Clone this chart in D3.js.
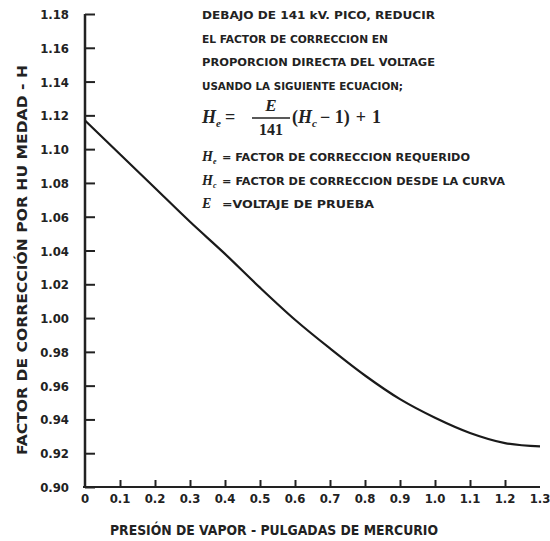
<!DOCTYPE html>
<html>
<head>
<meta charset="utf-8">
<script src="https://cdn.jsdelivr.net/npm/d3@7"></script>
<style>
  body { margin: 0; background: #fff; }
  svg { display: block; }
  .lbl { font-family: "Liberation Sans Narrow", "DejaVu Sans Condensed", sans-serif; font-weight: bold; fill: #222; }
  .math { font-family: "Liberation Serif", "DejaVu Serif", serif; font-weight: bold; fill: #222; }
</style>
</head>
<body>
<div id="chart"></div>
<script>
// curve, step 0.1 in. Hg
var presion = [0, 0.1, 0.2, 0.3, 0.4, 0.5, 0.6, 0.7, 0.8, 0.9, 1.0, 1.1, 1.2, 1.3];
var factorH = [1.117, 1.097, 1.077, 1.057, 1.038, 1.018, 0.999, 0.982, 0.966, 0.952, 0.941, 0.932, 0.926, 0.924];

var xTicks = [0, 0.1, 0.2, 0.3, 0.4, 0.5, 0.6, 0.7, 0.8, 0.9, 1.0, 1.1, 1.2, 1.3];
var xTickLabels = ["0", "0.1", "0.2", "0.3", "0.4", "0.5", "0.6", "0.7", "0.8", "0.9", "1.0", "1.1", "1.2", "1.3"];
var yTicks = [0.90, 0.92, 0.94, 0.96, 0.98, 1.00, 1.02, 1.04, 1.06, 1.08, 1.10, 1.12, 1.14, 1.16, 1.18];

var notas = [
  "DEBAJO DE 141 kV. PICO, REDUCIR",
  "EL FACTOR DE CORRECCION EN",
  "PROPORCION DIRECTA DEL VOLTAGE",
  "USANDO LA SIGUIENTE ECUACION;"
];
var leyenda = [
  {sym: "H", sub: "e", txt: "= FACTOR DE CORRECCION REQUERIDO"},
  {sym: "H", sub: "c", txt: "= FACTOR DE CORRECCION DESDE LA CURVA"},
  {sym: "E", sub: "", txt: "=VOLTAJE DE PRUEBA"}
];

var W = 550, H = 541;
var margin = {top: 14, right: 10, bottom: 54, left: 85};

var svg = d3.select("#chart").append("svg")
    .attr("width", W)
    .attr("height", H);

var x = d3.scaleLinear().domain([0, 1.3]).range([margin.left, 540]);
var y = d3.scaleLinear().domain([0.90, 1.18]).range([H - margin.bottom, margin.top]);

// y axis, ticks pointing inward
var yAxis = svg.append("g")
    .attr("transform", "translate(" + margin.left + ",0)")
    .call(d3.axisRight(y).tickValues(yTicks).tickSize(10).tickFormat(""));
yAxis.select(".domain").attr("stroke", "#222").attr("stroke-width", 2.5).attr("d", "M0," + y(1.18) + "V" + y(0.90));
yAxis.selectAll(".tick line").attr("stroke", "#222").attr("stroke-width", 2);

yAxis.selectAll(".tick").append("text")
    .attr("class", "lbl")
    .attr("x", -16)
    .attr("dy", "0.35em")
    .attr("text-anchor", "end")
    .style("font-size", "13px")
    .text(function(d) { return d3.format(".2f")(d); });

// x axis, small ticks pointing up
var xAxis = svg.append("g")
    .attr("transform", "translate(0," + y(0.90) + ")")
    .call(d3.axisTop(x).tickValues(xTicks.slice(1, 13)).tickSize(7).tickFormat(""));
xAxis.select(".domain").attr("stroke", "#222").attr("stroke-width", 2).attr("d", "M" + (x(0) - 2) + ",0H" + x(1.3));
xAxis.selectAll(".tick line").attr("stroke", "#222").attr("stroke-width", 2);

svg.append("g").selectAll("text")
    .data(xTicks)
  .enter().append("text")
    .attr("class", "lbl")
    .attr("x", function(d) { return x(d); })
    .attr("y", y(0.90) + 16)
    .attr("text-anchor", "middle")
    .style("font-size", "13px")
    .text(function(d, i) { return xTickLabels[i]; });

// axis titles
svg.append("text")
    .attr("class", "lbl")
    .attr("x", 274)
    .attr("y", 535)
    .attr("text-anchor", "middle")
    .attr("textLength", 328)
    .attr("lengthAdjust", "spacingAndGlyphs")
    .style("font-size", "14px")
    .text("PRESIÓN DE VAPOR - PULGADAS DE MERCURIO");

svg.append("text")
    .attr("class", "lbl")
    .attr("transform", "translate(27,260) rotate(-90)")
    .attr("text-anchor", "middle")
    .attr("textLength", 390)
    .attr("lengthAdjust", "spacingAndGlyphs")
    .style("font-size", "14px")
    .text("FACTOR DE CORRECCIÓN POR HU MEDAD - H");

// curve
var line = d3.line()
    .x(function(d, i) { return x(presion[i]); })
    .y(function(d) { return y(d); })
    .curve(d3.curveCatmullRom.alpha(0.5));

svg.append("path")
    .datum(factorH)
    .attr("fill", "none")
    .attr("stroke", "#1a1a1a")
    .attr("stroke-width", 2.2)
    .attr("d", line);

// notes block
var nx = 202;
var notaW = [233, 186, 233, 201];
svg.append("g").selectAll("text")
    .data(notas)
  .enter().append("text")
    .attr("class", "lbl")
    .attr("x", nx)
    .attr("y", function(d, i) { return 19 + i * 23.5; })
    .attr("textLength", function(d, i) { return notaW[i]; })
    .attr("lengthAdjust", "spacingAndGlyphs")
    .style("font-size", "11px")
    .text(function(d) { return d; });

// formula  H_e = E/141 (H_c - 1) + 1
var f = svg.append("g").attr("transform", "translate(" + nx + ",123)");
var t1 = f.append("text").attr("class", "math").style("font-size", "18px");
t1.append("tspan").style("font-style", "italic").text("H");
t1.append("tspan").style("font-style", "italic").style("font-size", "11px").attr("dy", 4).text("e");
t1.append("tspan").attr("dy", -4).attr("dx", 4).text("=");
f.append("text").attr("class", "math").attr("x", 69).attr("y", -12).attr("text-anchor", "middle")
    .style("font-size", "17px").style("font-style", "italic").text("E");
f.append("line").attr("x1", 50).attr("x2", 88).attr("y1", -5).attr("y2", -5)
    .attr("stroke", "#222").attr("stroke-width", 1.3);
f.append("text").attr("class", "math").attr("x", 69).attr("y", 12).attr("text-anchor", "middle")
    .style("font-size", "16px").text("141");
var t2 = f.append("text").attr("class", "math").attr("x", 90).style("font-size", "18px");
t2.append("tspan").text("(");
t2.append("tspan").style("font-style", "italic").text("H");
t2.append("tspan").style("font-style", "italic").style("font-size", "11px").attr("dy", 4).text("c");
t2.append("tspan").attr("dy", -4).attr("dx", 3).text("\u2212 1)");
t2.append("tspan").attr("dx", 6).text("+");
t2.append("tspan").attr("dx", 6).text("1");

// legend of symbols
var legW = [248, 283, 152];
var lg = svg.append("g").selectAll("g")
    .data(leyenda)
  .enter().append("g")
    .attr("transform", function(d, i) { return "translate(" + nx + "," + (161 + i * 23.5) + ")"; });
var sym = lg.append("text").attr("class", "math").style("font-size", "14px").style("font-style", "italic");
sym.append("tspan").text(function(d) { return d.sym; });
sym.append("tspan").attr("dy", 3).style("font-size", "8px").text(function(d) { return d.sub; });
lg.append("text")
    .attr("class", "lbl")
    .attr("x", 20)
    .attr("textLength", function(d, i) { return legW[i]; })
    .attr("lengthAdjust", "spacingAndGlyphs")
    .style("font-size", "11px")
    .text(function(d) { return d.txt; });
</script>
</body>
</html>
